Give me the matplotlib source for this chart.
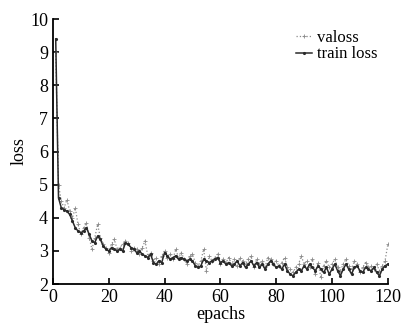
import matplotlib
matplotlib.use("Agg")
import matplotlib.pyplot as plt

plt.rcParams['font.family'] = ['Liberation Serif', 'DejaVu Serif']

epochs = list(range(1, 121))
train_loss = [
    9.4, 4.6, 4.3, 4.25, 4.2, 4.1, 3.9, 3.7, 3.6, 3.55,
    3.6, 3.7, 3.5, 3.3, 3.25, 3.45, 3.35, 3.15, 3.05, 3.0,
    3.1, 3.05, 3.0, 3.05, 3.0, 3.25, 3.2, 3.1, 3.05, 2.95,
    3.0, 2.9, 2.85, 2.8, 2.9, 2.65, 2.6, 2.7, 2.65, 2.95,
    2.85, 2.75, 2.8, 2.85, 2.75, 2.8, 2.75, 2.7, 2.75, 2.7,
    2.55, 2.5, 2.55, 2.75, 2.7, 2.65, 2.7, 2.75, 2.8, 2.65,
    2.7, 2.6, 2.65, 2.55, 2.6, 2.7, 2.55, 2.65, 2.5, 2.6,
    2.7, 2.55, 2.65, 2.5, 2.6, 2.45, 2.6, 2.7, 2.6, 2.5,
    2.55, 2.45, 2.6, 2.4, 2.3, 2.25, 2.35, 2.45, 2.4, 2.55,
    2.45, 2.6, 2.5, 2.4, 2.55, 2.45, 2.35, 2.5, 2.3, 2.45,
    2.6, 2.4, 2.25, 2.45, 2.6, 2.45, 2.3, 2.5, 2.55, 2.4,
    2.35, 2.5, 2.45, 2.4, 2.5, 2.35, 2.25, 2.45, 2.55, 2.6,
]
val_loss = [
    9.0, 5.0, 4.5, 4.3, 4.55, 4.2, 4.0, 4.3, 3.8, 3.5,
    3.7, 3.85, 3.4, 3.05, 3.4, 3.8, 3.4, 3.2, 3.1, 2.95,
    3.2, 3.35, 3.05, 3.1, 3.2, 3.3, 3.25, 3.0, 3.1, 3.05,
    2.9, 3.1, 3.3, 2.85, 2.95, 2.7, 2.8, 2.6, 2.85, 3.0,
    2.8, 2.9, 2.75, 3.05, 2.8, 2.95, 2.75, 2.6, 2.85, 2.9,
    2.65, 2.55, 2.7, 3.05, 2.4, 2.85, 2.7, 2.8, 2.9, 2.6,
    2.75, 2.65, 2.8, 2.6, 2.75, 2.55, 2.8, 2.7, 2.6, 2.75,
    2.85, 2.5, 2.75, 2.6, 2.7, 2.5, 2.8, 2.75, 2.6, 2.7,
    2.55, 2.65, 2.8, 2.5, 2.45, 2.35, 2.5, 2.6, 2.85, 2.6,
    2.7, 2.5, 2.75, 2.3, 2.65, 2.2, 2.55, 2.7, 2.5, 2.6,
    2.75, 2.5, 2.4, 2.6, 2.75, 2.55, 2.45, 2.7, 2.6, 2.35,
    2.5, 2.65, 2.5, 2.55, 2.45, 2.6, 2.4, 2.55, 2.7, 3.2,
]

fig = plt.figure(figsize=(4.04, 3.28), dpi=100)
ax = fig.add_axes([0.131, 0.134, 0.829, 0.808])

ax.plot(epochs, val_loss, color='#8a8a8a', linestyle=':', linewidth=0.9,
        marker='+', markersize=2.5, markeredgewidth=0.6, label='valoss')
ax.plot(epochs, train_loss, color='#2a2a2a', linewidth=1.1,
        marker='.', markersize=2.5, label='train loss')

ax.set_xlim(0, 120)
ax.set_ylim(2, 10)
ax.set_xticks(range(0, 121, 20))
ax.set_yticks(range(2, 11))
ax.tick_params(direction='in', labelsize=13, length=4, width=1.2)
for s in ['left', 'bottom']:
    ax.spines[s].set_linewidth(1.3)
ax.spines['top'].set_visible(False)
ax.spines['right'].set_visible(False)
ax.set_xlabel('epachs', fontsize=13, labelpad=0)
ax.set_ylabel('loss', fontsize=13, labelpad=2)

ax.legend(loc='upper right', frameon=False, fontsize=12, handlelength=1.0,
          handletextpad=0.3, labelspacing=0.05, borderaxespad=0.0,
          bbox_to_anchor=(0.99, 0.985))

fig.savefig('out.png', dpi=100)
